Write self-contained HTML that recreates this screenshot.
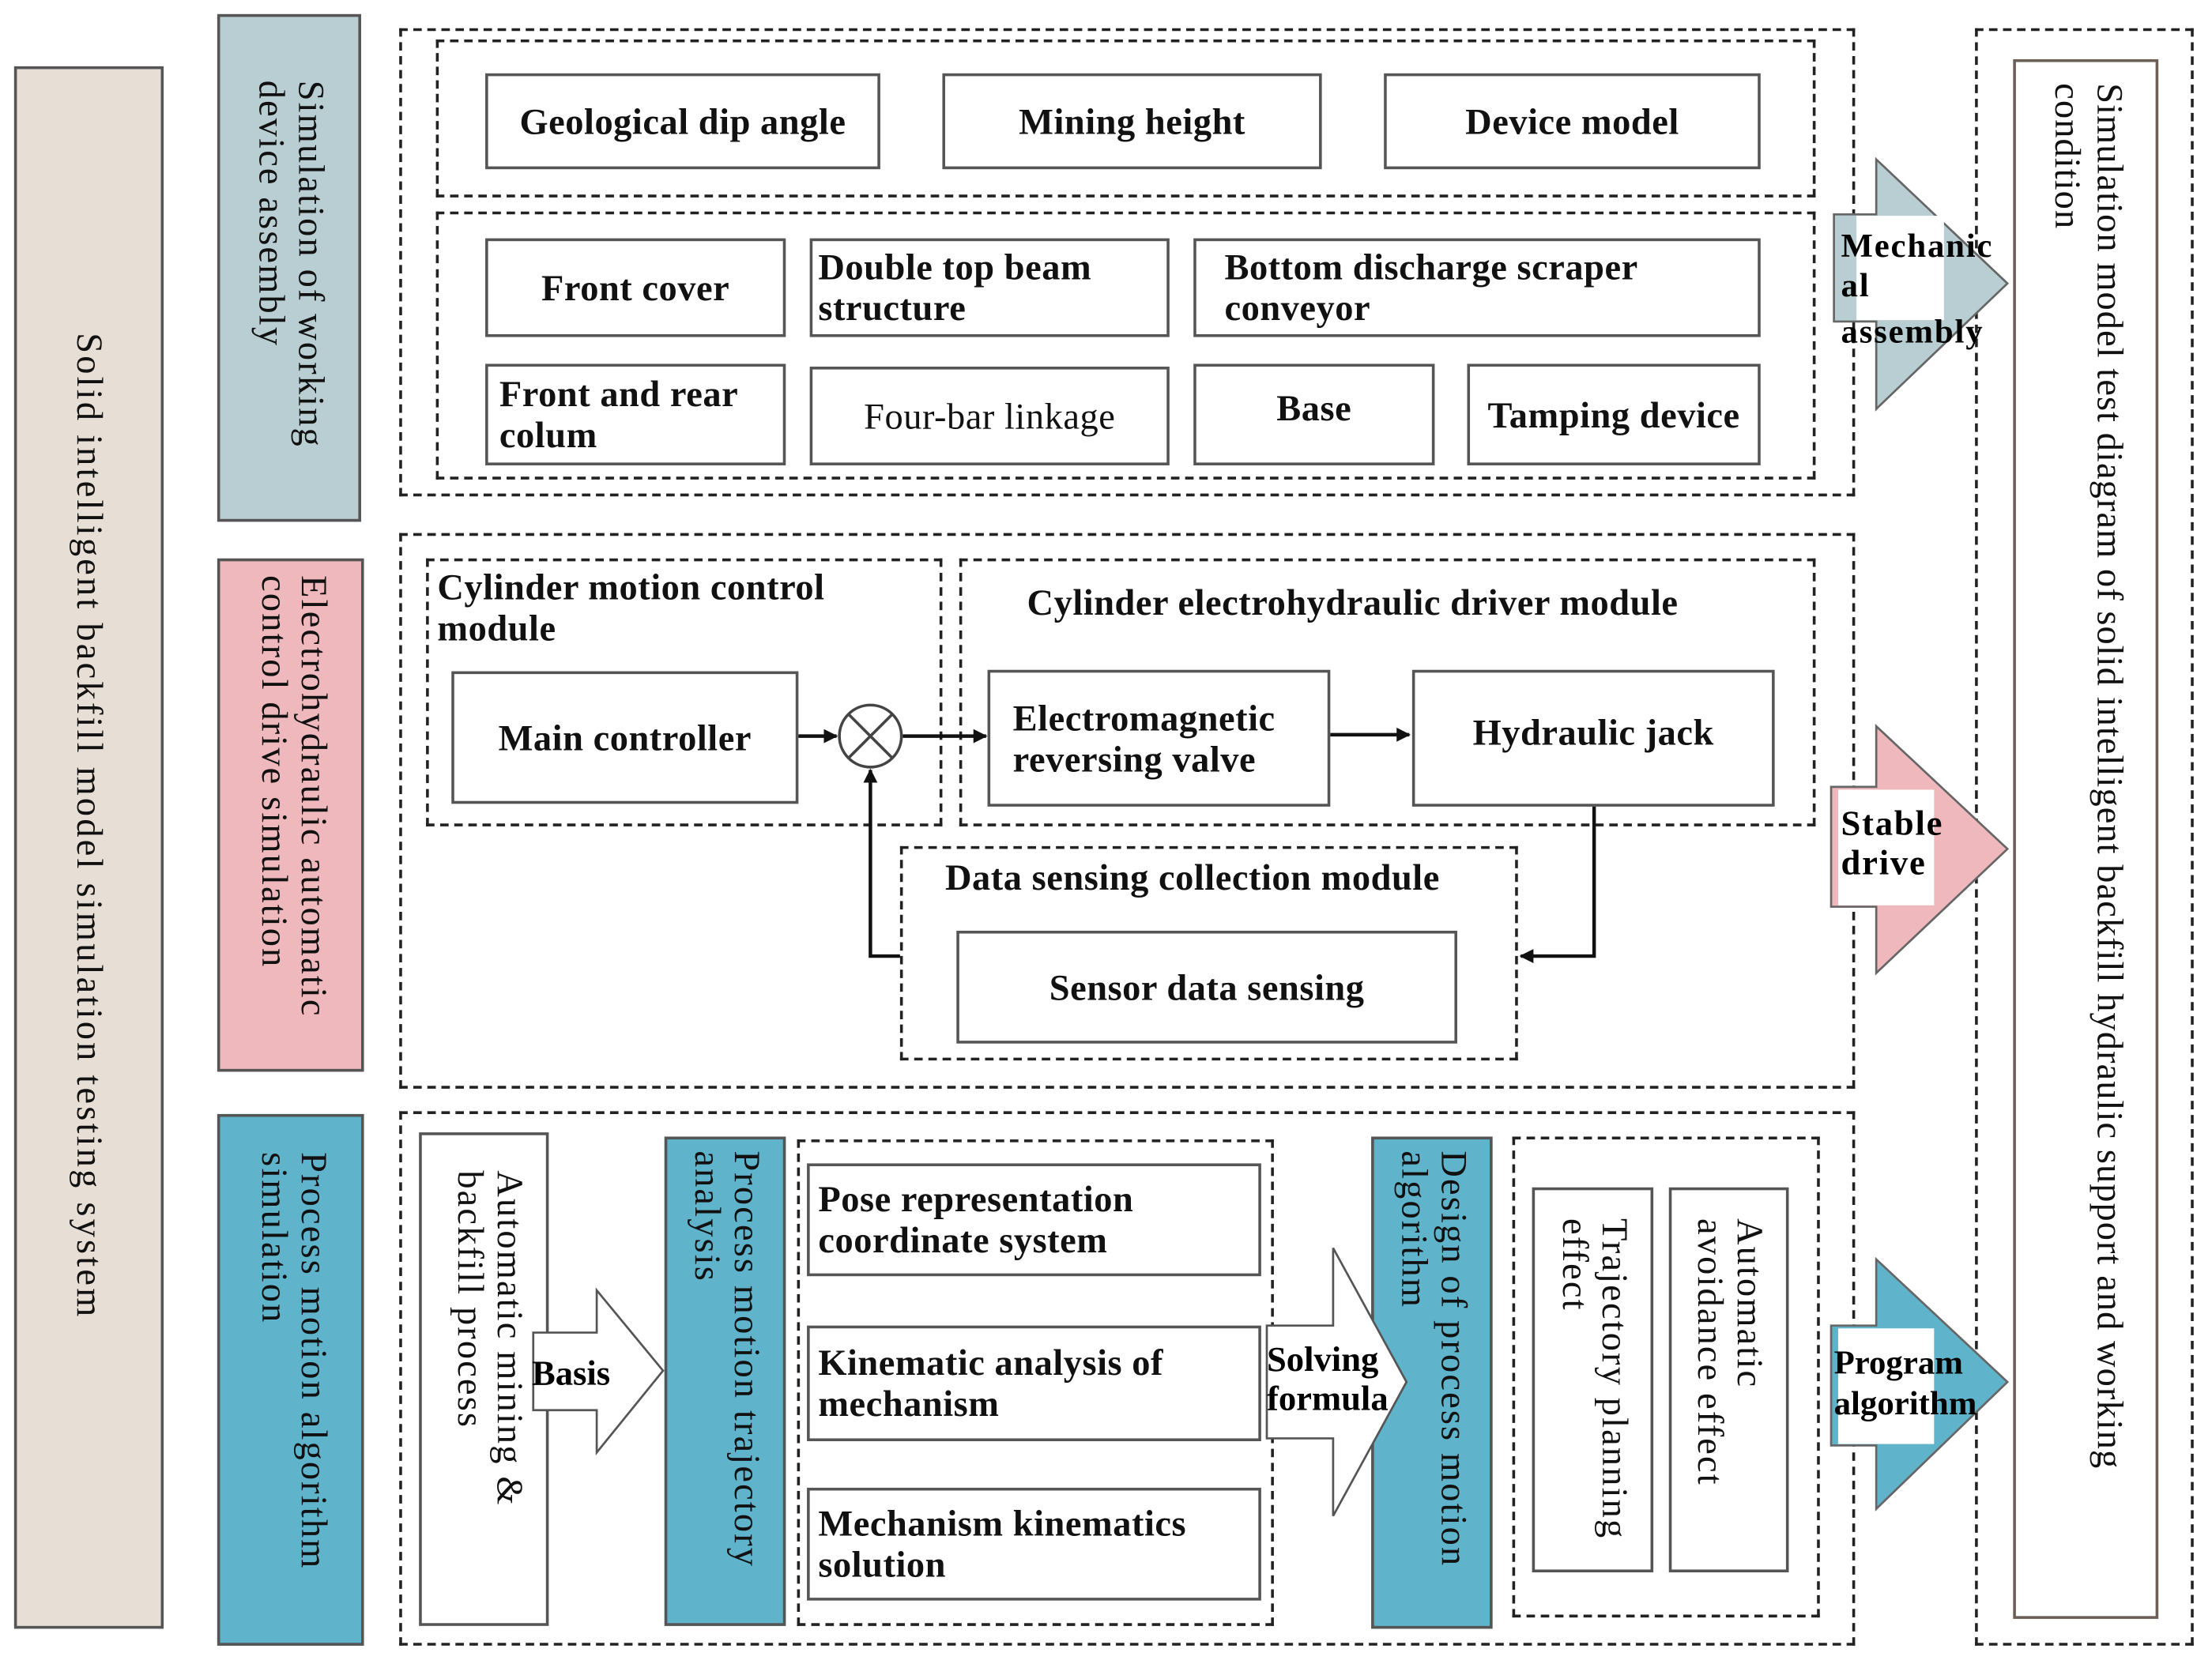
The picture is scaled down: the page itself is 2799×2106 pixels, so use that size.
<!DOCTYPE html>
<html><head><meta charset="utf-8"><style>
html,body{margin:0;padding:0;background:#fff;width:2799px;height:2106px;overflow:hidden}
#c{position:absolute;left:0;top:0;width:1568px;height:1180px;transform:scale(1.78508,1.78475);transform-origin:0 0;font-family:"Liberation Serif",serif;color:#111}
.a{position:absolute;box-sizing:border-box}
.d{border:2px dashed #222}
.b{border:2px solid #555;background:#fff}
.t{font-size:26px;font-weight:bold;line-height:29px;letter-spacing:0.3px;white-space:nowrap}
.v{writing-mode:vertical-rl;font-size:26px;line-height:28px;letter-spacing:1.2px;white-space:nowrap}
.f{display:flex;align-items:center;justify-content:center;text-align:center}
.l{display:flex;align-items:center;padding-left:8px}
</style></head><body><div id="c">
<!-- left -->
<div class="a v" style="left:10px;top:47px;width:106px;height:1108px;background:#e7ded5;border:2px solid #555;display:flex;align-items:center;justify-content:center;padding-bottom:30px;letter-spacing:1.8px">Solid intelligent backfill model simulation testing system</div>
<div class="a v" style="left:154px;top:10px;width:102px;height:360px;background:#b9ced2;border:2px solid #555;padding:45px 20px 0 0">Simulation of working<br>device assembly</div>
<div class="a v" style="left:154px;top:396px;width:104px;height:364px;background:#eeb8bc;border:2px solid #555;padding:10px 20px 0 0">Electrohydraulic automatic<br>control drive simulation</div>
<div class="a v" style="left:154px;top:790px;width:104px;height:377px;background:#5fb4cb;border:2px solid #555;padding:25px 20px 0 0">Process motion algorithm<br>simulation</div>

<!-- section 1 -->
<div class="a d" style="left:283px;top:20px;width:1032px;height:332px"></div>
<div class="a d" style="left:309px;top:28px;width:978px;height:112px"></div>
<div class="a d" style="left:309px;top:150px;width:978px;height:190px"></div>
<div class="a b t f" style="left:344px;top:52px;width:280px;height:68px">Geological dip angle</div>
<div class="a b t f" style="left:668px;top:52px;width:269px;height:68px">Mining height</div>
<div class="a b t f" style="left:981px;top:52px;width:267px;height:68px">Device model</div>
<div class="a b t f" style="left:344px;top:169px;width:213px;height:70px">Front cover</div>
<div class="a b t l" style="left:574px;top:169px;width:255px;height:70px;padding-left:4px">Double top beam<br>structure</div>
<div class="a b t l" style="left:846px;top:169px;width:402px;height:70px;padding-left:20px">Bottom discharge scraper<br>conveyor</div>
<div class="a b t l" style="left:344px;top:258px;width:213px;height:72px;padding-left:8px">Front and rear<br>colum</div>
<div class="a b t f" style="left:574px;top:260px;width:255px;height:70px;font-weight:normal">Four-bar linkage</div>
<div class="a b t f" style="left:846px;top:258px;width:171px;height:72px;padding-bottom:10px">Base</div>
<div class="a b t f" style="left:1040px;top:258px;width:208px;height:72px">Tamping device</div>

<!-- section 2 -->
<div class="a d" style="left:283px;top:378px;width:1032px;height:394px"></div>
<div class="a d t" style="left:302px;top:396px;width:366px;height:190px;padding:4px 6px">Cylinder motion control<br>module</div>
<div class="a d t" style="left:680px;top:396px;width:607px;height:190px;padding:15px 0 0 46px">Cylinder electrohydraulic driver module</div>
<div class="a d t" style="left:638px;top:600px;width:438px;height:152px;padding:6px 0 0 30px">Data sensing collection module</div>
<div class="a b t f" style="left:320px;top:476px;width:246px;height:94px">Main controller</div>
<div class="a b t l" style="left:700px;top:475px;width:243px;height:97px;padding-left:16px">Electromagnetic<br>reversing valve</div>
<div class="a b t f" style="left:1001px;top:475px;width:257px;height:97px;padding-bottom:8px">Hydraulic jack</div>
<div class="a b t f" style="left:678px;top:660px;width:355px;height:80px">Sensor data sensing</div>

<!-- section 3 -->
<div class="a d" style="left:283px;top:788px;width:1032px;height:379px"></div>
<div class="a b v" style="left:297px;top:803px;width:92px;height:350px;padding:25px 12px 0 0">Automatic mining &amp;<br>backfill process</div>
<div class="a v" style="left:471px;top:806px;width:86px;height:347px;background:#5fb4cb;border:2px solid #555;padding:8px 12px 0 0">Process motion trajectory<br>analysis</div>
<div class="a d" style="left:565px;top:808px;width:338px;height:345px"></div>
<div class="a b t l" style="left:572px;top:825px;width:322px;height:80px;padding-left:6px">Pose representation<br>coordinate system</div>
<div class="a b t l" style="left:572px;top:940px;width:322px;height:82px;padding-left:6px">Kinematic analysis of<br>mechanism</div>
<div class="a b t l" style="left:572px;top:1055px;width:322px;height:80px;padding-left:6px">Mechanism kinematics<br>solution</div>
<div class="a v" style="left:972px;top:806px;width:86px;height:349px;background:#5fb4cb;border:2px solid #555;padding:8px 12px 0 0">Design of process motion<br>algorithm</div>
<div class="a d" style="left:1072px;top:806px;width:218px;height:341px"></div>
<div class="a b v" style="left:1086px;top:842px;width:86px;height:273px;padding:20px 12px 0 0">Trajectory planning<br>effect</div>
<div class="a b v" style="left:1183px;top:842px;width:85px;height:273px;padding:20px 12px 0 0">Automatic<br>avoidance effect</div>

<!-- right -->
<div class="a d" style="left:1400px;top:20px;width:155px;height:1147px"></div>
<div class="a v" style="left:1427px;top:42px;width:103px;height:1106px;border:2px solid #6b5f58;background:#fff;padding:15px 18px 0 0;line-height:30px;letter-spacing:0.6px">Simulation model test diagram of solid intelligent backfill hydraulic support and working<br>condition</div>

<svg class="a" style="left:0;top:0" width="1568" height="1180">
<defs><marker id="ar" markerWidth="10" markerHeight="10" refX="9" refY="5" orient="auto" markerUnits="userSpaceOnUse"><path d="M0,0 L10,5 L0,10 z" fill="#111"/></marker></defs>
<g stroke="#111" stroke-width="2.5" fill="none">
<line x1="566" y1="522" x2="593" y2="522" marker-end="url(#ar)"/>
<line x1="640" y1="522" x2="699" y2="522" marker-end="url(#ar)"/>
<line x1="943" y1="521" x2="999" y2="521" marker-end="url(#ar)"/>
<polyline points="1130,572 1130,678 1078,678" marker-end="url(#ar)"/>
<polyline points="638,678 617,678 617,546" marker-end="url(#ar)"/>
</g>
<circle cx="617" cy="522" r="22" fill="#fff" stroke="#444" stroke-width="2"/>
<line x1="601.5" y1="506.5" x2="632.5" y2="537.5" stroke="#444" stroke-width="2"/>
<line x1="632.5" y1="506.5" x2="601.5" y2="537.5" stroke="#444" stroke-width="2"/>
<polygon points="378,945 423,945 423,915 470,972 423,1030 423,1000 378,1000" fill="#fff" stroke="#555" stroke-width="1.5"/>
<text x="377" y="982" font-family="Liberation Serif" font-weight="bold" font-size="25">Basis</text>
<polygon points="898,940 945,940 945,885 997,980 945,1075 945,1020 898,1020" fill="#fff" stroke="#555" stroke-width="1.5"/>
<text x="898" y="972" font-family="Liberation Serif" font-weight="bold" font-size="25">Solving</text>
<text x="898" y="1000" font-family="Liberation Serif" font-weight="bold" font-size="25">formula</text>
<polygon points="1300,152 1330,152 1330,113 1423,201 1330,290 1330,228 1300,228" fill="#b9ced2" stroke="#666" stroke-width="1.5"/>
<rect x="1316" y="153" width="62" height="74" fill="#fff"/>
<text font-family="Liberation Serif" font-weight="bold" font-size="24" letter-spacing="1"><tspan x="1305" y="182">Mechanic</tspan><tspan x="1305" y="210">al</tspan><tspan x="1305" y="243">assembly</tspan></text>
<polygon points="1298,558 1330,558 1330,515 1423,602 1330,690 1330,643 1298,643" fill="#eeb8bc" stroke="#666" stroke-width="1.5"/>
<rect x="1303" y="560" width="68" height="82" fill="#fff"/>
<text font-family="Liberation Serif" font-weight="bold" font-size="25" letter-spacing="1"><tspan x="1305" y="592">Stable</tspan><tspan x="1305" y="620">drive</tspan></text>
<polygon points="1298,940 1330,940 1330,893 1423,980 1330,1070 1330,1025 1298,1025" fill="#5fb4cb" stroke="#666" stroke-width="1.5"/>
<rect x="1303" y="942" width="68" height="82" fill="#fff"/>
<text font-family="Liberation Serif" font-weight="bold" font-size="24"><tspan x="1300" y="974">Program</tspan><tspan x="1300" y="1003">algorithm</tspan></text>
</svg>
</div></body></html>
